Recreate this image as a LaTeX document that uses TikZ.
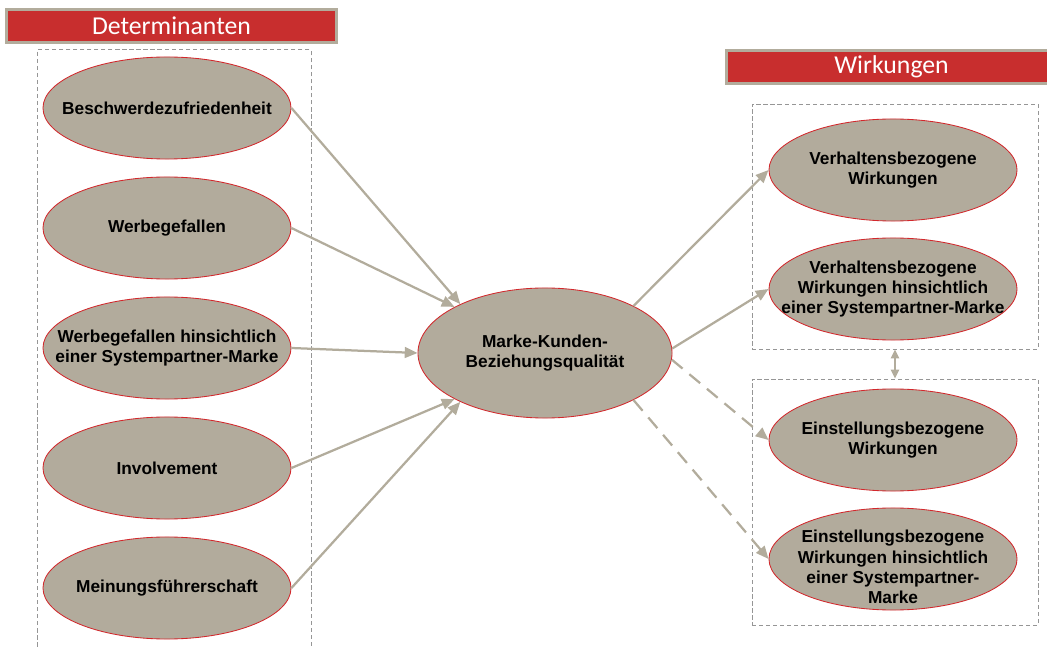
\documentclass[tikz,border=0pt]{standalone}
\usepackage{fontspec}
\setmainfont{Liberation Sans}
\newfontfamily\bannerfont{Carlito}
\usepackage{xcolor}
\usetikzlibrary{arrows.meta,shapes.geometric}

\definecolor{ovalfill}{RGB}{178,171,156}
\definecolor{ovalred}{RGB}{210,40,44}
\definecolor{arrgrey}{RGB}{178,172,156}
\definecolor{bannerred}{RGB}{200,46,46}
\definecolor{framegrey}{RGB}{150,150,150}

\begin{document}
\begin{tikzpicture}[x=0.025cm,y=-0.025cm,
  oval/.style  ={ellipse,draw=ovalred,fill=ovalfill,line width=0.6pt,
                 minimum width=6.2cm,minimum height=2.55cm,inner sep=0pt},
  txt/.style   ={font=\bfseries\fontsize{12.3}{14.4}\selectfont,
                 align=center,inner sep=0pt},
  banner/.style={fill=bannerred,draw=arrgrey,line width=2.1pt,
                 minimum width=8.25cm,minimum height=0.825cm,inner sep=0pt,
                 text=white,font=\bannerfont\fontsize{18.3}{20}\selectfont},
  frame/.style ={draw=framegrey,dash pattern=on 3pt off 2pt,
                 line width=0.6pt,inner sep=0pt},
  arr/.style   ={-{Triangle[length=0.32cm,width=0.27cm]},color=arrgrey,
                 line width=1.6pt},
  darr/.style  ={arr,dash pattern=on 0.35cm off 0.22cm},
  dbl/.style   ={{Triangle[length=0.22cm,width=0.2cm]}-{Triangle[length=0.22cm,width=0.2cm]},
                 color=arrgrey,line width=1.3pt}
]
\clip (0,0) rectangle (1047,649);

%% Banners
\node[banner] (detban) at (171.5,26) {Determinanten};
\node[banner] (wirban) at (891.5,67) {Wirkungen};

%% Dashed frames
\node[frame,minimum width=6.85cm,minimum height=15.25cm] (detbox) at (174,355) {};
\node[frame,minimum width=7.15cm,minimum height=6.125cm] (verhbox) at (895,226.5) {};
\node[frame,minimum width=7.15cm,minimum height=6.15cm] (einbox) at (895,502) {};

%% Determinanten, 120px apart
\node[oval,label={[txt]center:Beschwerdezufriedenheit}] (besch) at (167,108) {};
\node[oval,label={[txt]center:Werbegefallen}] (werb) at (167,228) {};
\node[oval,label={[txt]center:{Werbegefallen hinsichtlich\\einer Systempartner-Marke}}] (werbsp) at (167,348) {};
\node[oval,label={[txt]center:Involvement}] (invol) at (167,468) {};
\node[oval,label={[txt]center:Meinungsführerschaft}] (meinung) at (167,588) {};

%% Centre
\node[oval,minimum width=6.35cm,minimum height=3.25cm,
      label={[txt]center:{Marke-Kunden-\\Beziehungsqualität}}] (mkb) at (545,353) {};

%% Wirkungen
\node[oval,label={[txt]center:{Verhaltensbezogene\\Wirkungen}}] (verh) at (893,170) {};
\node[oval,label={[txt]center:{Verhaltensbezogene\\Wirkungen hinsichtlich\\einer Systempartner-Marke}}] (verhsp) at (893,289) {};
\node[oval,label={[txt]center:{Einstellungsbezogene\\Wirkungen}}] (einst) at (893,440) {};
\node[oval,label={[txt,yshift=-0.2cm]center:{Einstellungsbezogene\\Wirkungen hinsichtlich\\einer Systempartner-\\Marke}}] (einstsp) at (893,559) {};

%% Arrows into the centre
\draw[arr] (besch.east)   -- (mkb.150);
\draw[arr] (werb.east)    -- (mkb.153);
\draw[arr] (werbsp.east)  -- (mkb.west);
\draw[arr] (invol.east)   -- (mkb.207);
\draw[arr] (meinung.east) -- (mkb.210);

%% Arrows out of the centre
\draw[arr]  (mkb.28)  -- (verh.west);
\draw[arr]  (mkb.2)   -- (verhsp.west);
\draw[darr] (mkb.-3)  -- (einst.west);
\draw[darr] (mkb.-28) -- (einstsp.west);

%% Link between the two frames
\draw[dbl] (verhbox.south) -- (einbox.north);
\end{tikzpicture}
\end{document}
